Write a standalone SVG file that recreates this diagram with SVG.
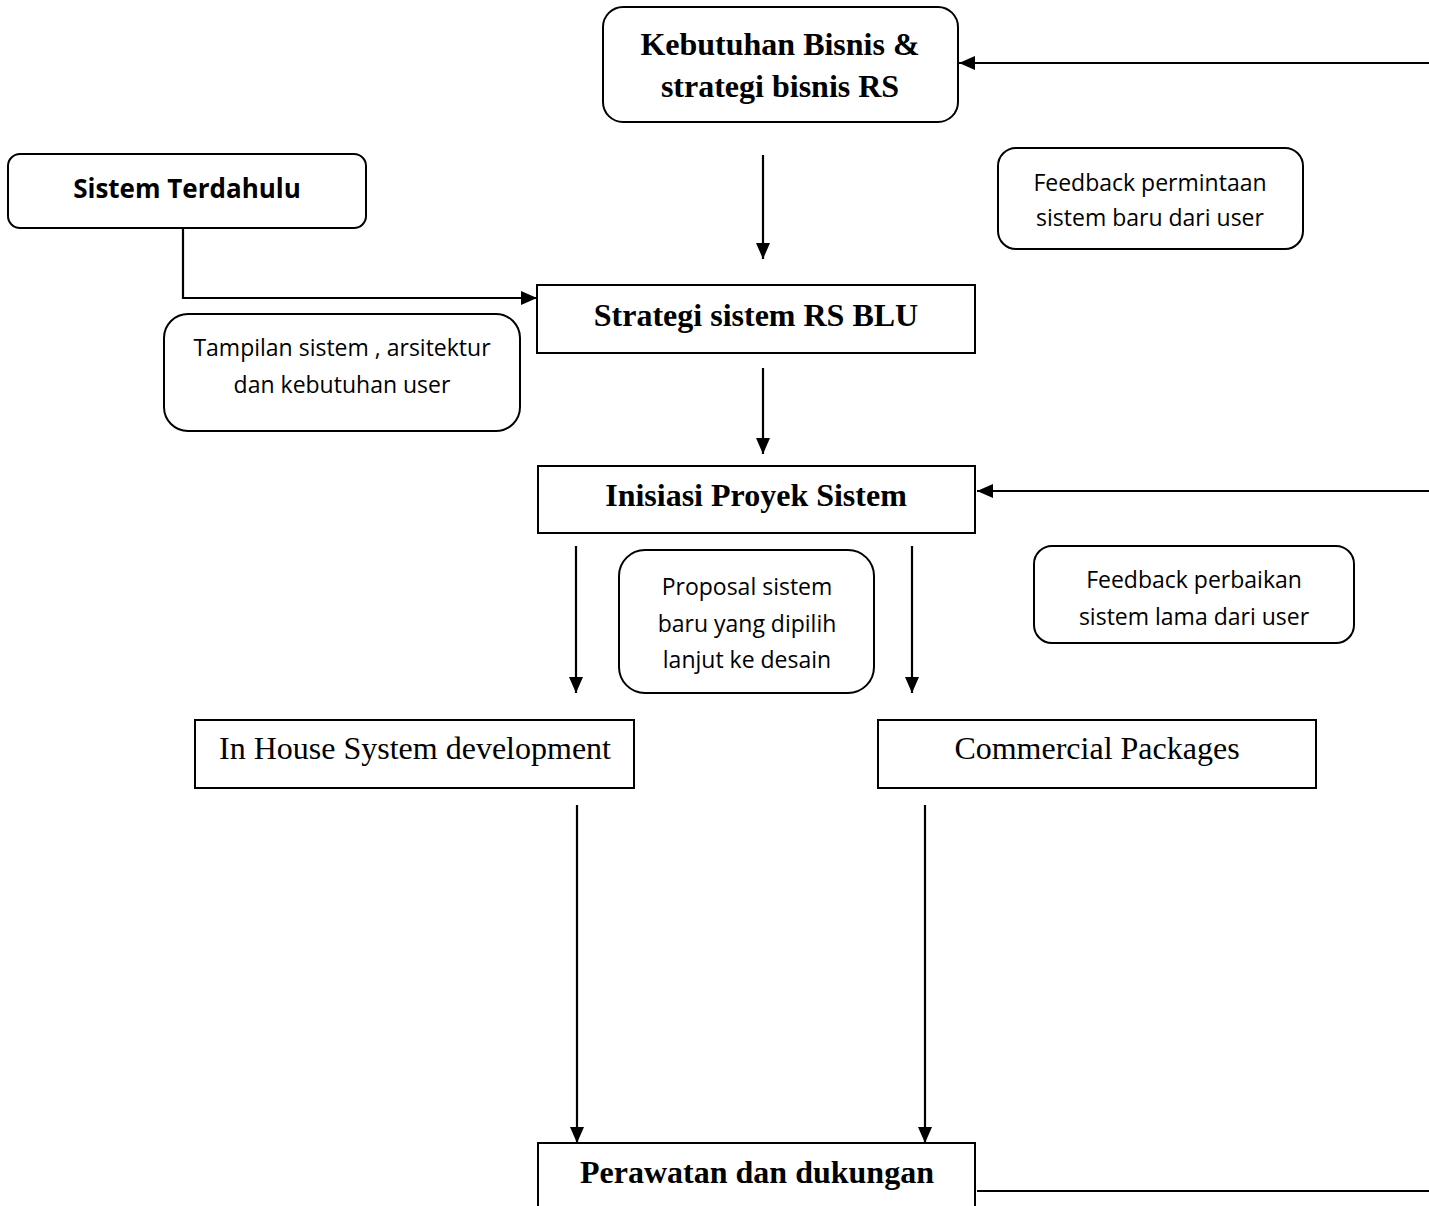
<svg xmlns="http://www.w3.org/2000/svg" width="1429" height="1206" viewBox="0 0 1429 1206">
<style>
.box{fill:#fff;stroke:#000;stroke-width:2}
.ln{fill:none;stroke:#000;stroke-width:2.2}
.tb{font-family:"Liberation Serif","Times New Roman",serif;font-weight:bold;font-size:32px;text-anchor:middle;fill:#000}
.tr{font-family:"Liberation Serif","Times New Roman",serif;font-size:32px;text-anchor:middle;fill:#000}
.ts{font-family:"Open Sans","Noto Sans",sans-serif;font-size:23px;text-anchor:middle;fill:#000}
.tsb{font-family:"Open Sans","Noto Sans",sans-serif;font-weight:bold;font-size:26px;text-anchor:middle;fill:#000}
</style>
<defs>
<marker id="a" viewBox="0 0 16 14" refX="16" refY="7" markerWidth="16" markerHeight="14" markerUnits="userSpaceOnUse" orient="auto">
<path d="M0,0 L16,7 L0,14 z" fill="#000"/>
</marker>
</defs>
<rect width="1429" height="1206" fill="#fff"/>
<g id="connectors">
<line class="ln" x1="1429" y1="63" x2="959" y2="63" marker-end="url(#a)"/>
<polyline class="ln" points="183,228 183,298 537,298" marker-end="url(#a)"/>
<line class="ln" x1="763" y1="155" x2="763" y2="259" marker-end="url(#a)"/>
<line class="ln" x1="763" y1="368" x2="763" y2="454" marker-end="url(#a)"/>
<line class="ln" x1="1429" y1="491" x2="977" y2="491" marker-end="url(#a)"/>
<line class="ln" x1="576" y1="546" x2="576" y2="693" marker-end="url(#a)"/>
<line class="ln" x1="912" y1="546" x2="912" y2="693" marker-end="url(#a)"/>
<line class="ln" x1="577" y1="805" x2="577" y2="1143" marker-end="url(#a)"/>
<line class="ln" x1="925" y1="805" x2="925" y2="1143" marker-end="url(#a)"/>
<line class="ln" x1="977" y1="1191" x2="1429" y2="1191"/>
</g>
<g id="kebutuhan">
<rect class="box" x="603" y="7" width="355" height="115" rx="20"/>
<text class="tb" x="780" y="55">Kebutuhan Bisnis &amp;</text>
<text class="tb" x="780" y="97">strategi bisnis RS</text>
</g>
<g id="sistem-terdahulu">
<rect class="box" x="8" y="154" width="358" height="74" rx="12"/>
<text class="tsb" x="187" y="198">Sistem Terdahulu</text>
</g>
<g id="feedback-permintaan">
<rect class="box" x="998" y="148" width="305" height="101" rx="18"/>
<text class="ts" x="1150" y="191">Feedback permintaan</text>
<text class="ts" x="1150" y="226">sistem baru dari user</text>
</g>
<g id="strategi">
<rect class="box" x="537" y="285" width="438" height="68"/>
<text class="tb" x="756" y="326">Strategi sistem RS BLU</text>
</g>
<g id="tampilan">
<rect class="box" x="164" y="314" width="356" height="117" rx="24"/>
<text class="ts" x="342" y="356">Tampilan sistem , arsitektur</text>
<text class="ts" x="342" y="393">dan kebutuhan user</text>
</g>
<g id="inisiasi">
<rect class="box" x="538" y="466" width="437" height="67"/>
<text class="tb" x="756" y="506">Inisiasi Proyek Sistem</text>
</g>
<g id="proposal">
<rect class="box" x="619" y="550" width="255" height="143" rx="26"/>
<text class="ts" x="747" y="595">Proposal sistem</text>
<text class="ts" x="747" y="632">baru yang dipilih</text>
<text class="ts" x="747" y="668">lanjut ke desain</text>
</g>
<g id="feedback-perbaikan">
<rect class="box" x="1034" y="546" width="320" height="97" rx="18"/>
<text class="ts" x="1194" y="588">Feedback perbaikan</text>
<text class="ts" x="1194" y="625">sistem lama dari user</text>
</g>
<g id="in-house">
<rect class="box" x="195" y="720" width="439" height="68"/>
<text class="tr" x="415" y="759">In House System development</text>
</g>
<g id="commercial">
<rect class="box" x="878" y="720" width="438" height="68"/>
<text class="tr" x="1097" y="759">Commercial Packages</text>
</g>
<g id="perawatan">
<rect class="box" x="538" y="1143" width="437" height="70"/>
<text class="tb" x="757" y="1183">Perawatan dan dukungan</text>
</g>
</svg>
